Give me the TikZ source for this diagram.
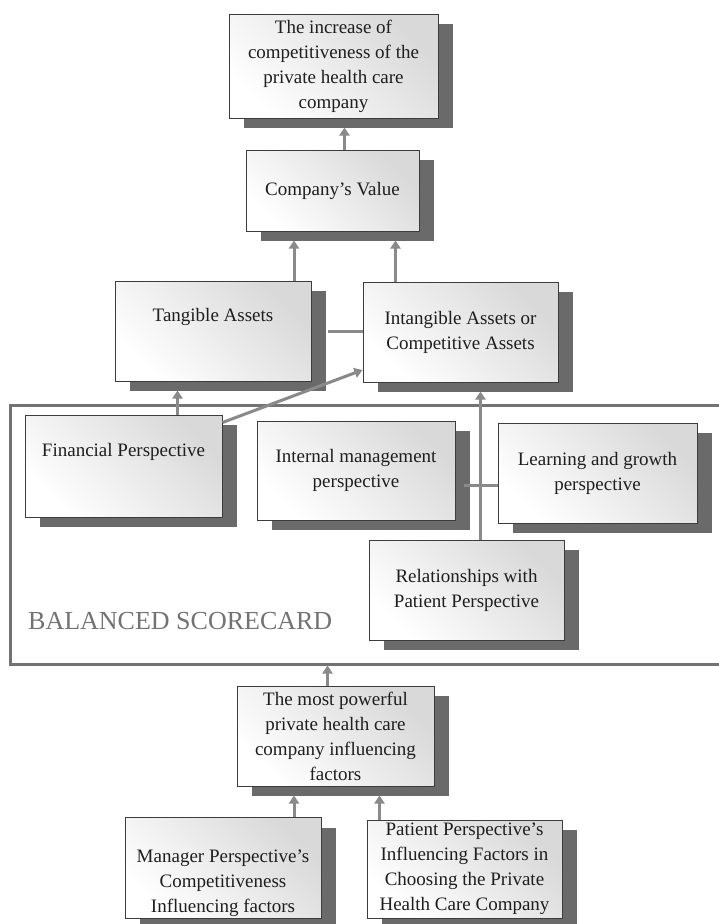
\documentclass[tikz,border=0pt]{standalone}
\usepackage{fontspec}
\setmainfont{Liberation Serif}
\usetikzlibrary{arrows.meta,shadows}
\definecolor{boxline}{RGB}{60,60,60}
\definecolor{shadowgray}{RGB}{106,106,106}
\definecolor{linkgray}{RGB}{138,138,138}
\definecolor{framegray}{RGB}{115,115,115}
\definecolor{textgray}{RGB}{30,30,30}

\begin{document}
\begin{tikzpicture}[x=1pt, y=-1pt,
	box/.style={rectangle, draw=boxline, line width=1pt, top color=gray!30, bottom color=white, shading angle=-45,
		drop shadow={shadow xshift=15pt, shadow yshift=-10pt, fill=shadowgray, opacity=1},
		align=center, text=textgray, font=\fontsize{19}{25}\selectfont, inner sep=2pt},
	link/.style={draw=linkgray, line width=3pt},
	arrowlink/.style={link, -{Triangle[width=10pt,length=8pt]}},
	uplink/.style={arrowlink, shorten >=9pt}]
	\fill[white] (0,0) rectangle (718,924);
	\useasboundingbox (0,0) rectangle (718,924);
	% balanced scorecard frame
	\node (bsc) at (367.5,534.5) [draw=framegray, line width=3pt, minimum width=715pt, minimum height=259pt, inner sep=0pt] {};
	\node (bsclabel) at (28,629) [anchor=base west, inner sep=0pt, text=framegray, font=\fontsize{26}{30}\selectfont] {BALANCED SCORECARD};
	% top
	\node (incr) at (333.5,66) [box, minimum width=209pt, minimum height=104pt] {The increase of\\competitiveness of the\\private health care\\company};
	\node (value) at (332.5,190.5) [box, minimum width=173pt, minimum height=81pt] {Company's Value};
		\node (tang) at (213,331) [box, minimum width=196pt, minimum height=100pt] {Tangible Assets\\\strut};
		\node (intang) at (460.5,332) [box, minimum width=195pt, minimum height=100pt] {Intangible Assets or\\Competitive Assets};
	% perspectives
			\node (fin) at (123.5,466) [box, minimum width=197pt, minimum height=102pt] {Financial Perspective\\\strut};
			\node (intern) at (356,470.5) [box, minimum width=198pt, minimum height=99pt] {Internal management\\perspective};
			\node (learn) at (597.5,473) [box, minimum width=199pt, minimum height=100pt] {Learning and growth\\perspective};
			\node (rel) at (466.5,590) [box, minimum width=195pt, minimum height=100pt] {Relationships with\\Patient Perspective};
	% bottom
	\node (power) at (335.5,736) [box, minimum width=197pt, minimum height=100pt] {The most powerful\\private health care\\company influencing\\factors};
		\node (manager) at (223,868) [box, minimum width=196pt, minimum height=100pt] {\strut\\Manager Perspective's\\Competitiveness\\Influencing factors};
		\node (patient) at (464.5,869) [box, minimum width=195pt, minimum height=98pt] {Patient Perspective's\\Influencing Factors in\\Choosing the Private\\Health Care Company};
	% connectors
	\coordinate (v1) at ([xshift=12pt]value.north);
	\draw[uplink] (v1) -- (v1 |- incr.south);
	\coordinate (t1) at ([xshift=81pt]tang.north);
	\draw[uplink] (t1) -- (t1 |- value.south);
	\coordinate (i1) at ([xshift=-65pt]intang.north);
	\draw[uplink] (i1) -- (i1 |- value.south);
	\draw[link, shorten <=16pt] (tang.east) -- (tang.east -| intang.west);
	\coordinate (f1) at ([xshift=54pt]fin.north);
	\draw[uplink] (f1) -- (f1 |- tang.south);
	\draw[arrowlink] ([yshift=-8pt]fin.north east) -- ([yshift=-38pt]intang.west);
	\coordinate (r1) at ([xshift=14pt]rel.north);
	\draw[uplink] (r1) -- (r1 |- intang.south);
	\coordinate (m1) at ([yshift=-15pt]intern.east);
	\draw[link, shorten <=8pt] (m1) -- (m1 -| learn.west);
	\coordinate (p1) at ([xshift=-8pt]power.north);
	\draw[arrowlink] (p1) -- (p1 |- bsc.south);
	\coordinate (g1) at ([xshift=71pt]manager.north);
	\draw[uplink] (g1) -- (g1 |- power.south);
	\coordinate (h1) at ([xshift=-85pt]patient.north);
	\draw[uplink] (h1) -- (h1 |- power.south);
\end{tikzpicture}
\end{document}
